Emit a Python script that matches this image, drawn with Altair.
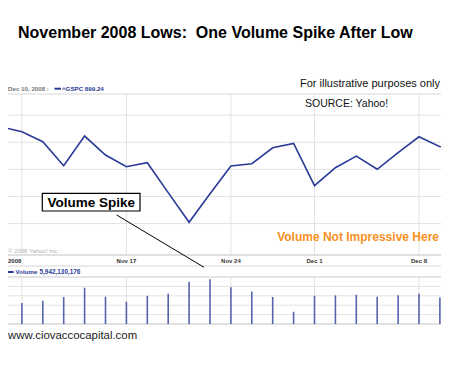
import altair as alt
import pandas as pd

# ---------------- data ----------------
days = ["Nov 7", "Nov 10", "Nov 11", "Nov 12", "Nov 13", "Nov 14", "Nov 17",
        "Nov 18", "Nov 19", "Nov 20", "Nov 21", "Nov 24", "Nov 25", "Nov 26",
        "Nov 28", "Dec 1", "Dec 2", "Dec 3", "Dec 4", "Dec 5", "Dec 8",
        "Dec 9", "Dec 10"]
close = [928.5, 919.3, 900.9, 856.7, 911.4, 876.4, 854.8, 862.2, 807.0,
         752.4, 805.0, 856.1, 860.4, 889.8, 897.9, 819.8, 853.0, 874.5,
         850.1, 881.0, 910.1, 891.7, 899.24]
volume_bn = [4.80, 4.47, 4.96, 5.74, 7.72, 5.80, 4.75, 6.00, 6.45, 9.00,
             9.50, 7.80, 6.90, 5.74, 2.60, 6.00, 6.10, 6.20, 5.80, 6.10,
             6.45, 5.66, 5.94]
tick_idx = [6, 11, 15, 20]
tick_labels = ["Nov 17", "Nov 24", "Dec 1", "Dec 8"]
grid_idx = [1, 6, 11, 15, 20]
price_grid = [750, 800, 850, 900, 950]
vol_grid = [2, 4, 6, 8, 10]

FONT = "Liberation Sans"
W, H = 433, 340
STEP = 20.9          # px per trading day
X0 = -7.0            # chart x of index 0

xscale = alt.Scale(domain=[(0 - X0) / STEP, (W - X0) / STEP], range=[0, W], nice=False, zero=False)
yprice = alt.Scale(domain=[692, 989], range=[247, 86], nice=False, zero=False)
yvol = alt.Scale(domain=[0, 10], range=[316, 269], nice=False, zero=False)

n = len(days)
price_df = pd.DataFrame({"i": list(range(n)), "day": days, "close": close})
vol_df = pd.DataFrame({"i": list(range(n)), "day": days, "vol": volume_bn})
tick_df = pd.DataFrame({"i": tick_idx, "label": tick_labels})
gridx_df = pd.DataFrame({"i": grid_idx})
pgrid_df = pd.DataFrame({"g": price_grid})
vgrid_df = pd.DataFrame({"g": vol_grid})

GRID = "#e2e2e2"
BORDER = "#d6d6d6"


def label(txt, x, y, size, color="#000000", weight="normal", align="left", baseline="alphabetic"):
    return alt.Chart(pd.DataFrame({"t": [txt]})).mark_text(
        align=align, baseline=baseline, fontSize=size, fontWeight=weight,
        color=color, font=FONT
    ).encode(x=alt.value(x), y=alt.value(y), text="t:N")


def hline(y, color=BORDER, width=1.0):
    return alt.Chart(pd.DataFrame({"k": [0]})).mark_rule(color=color, strokeWidth=width).encode(
        x=alt.value(0), x2=alt.value(W), y=alt.value(y))


# gridlines
price_hgrid = alt.Chart(pgrid_df).mark_rule(color=GRID, strokeWidth=1).encode(
    y=alt.Y("g:Q", scale=yprice, axis=None), x=alt.value(0), x2=alt.value(W))
vol_hgrid = alt.Chart(vgrid_df).mark_rule(color=GRID, strokeWidth=1).encode(
    y=alt.Y("g:Q", scale=yvol, axis=None), x=alt.value(0), x2=alt.value(W))
price_vgrid = alt.Chart(gridx_df).mark_rule(color=GRID, strokeWidth=1).encode(
    x=alt.X("i:Q", scale=xscale, axis=None), y=alt.value(86), y2=alt.value(247))
vol_vgrid = alt.Chart(gridx_df).mark_rule(color=GRID, strokeWidth=1).encode(
    x=alt.X("i:Q", scale=xscale, axis=None), y=alt.value(269), y2=alt.value(316))

borders = [hline(86), hline(247, width=1.5), hline(258), hline(269), hline(316, width=1.5)]

price_line = alt.Chart(price_df).mark_line(color="#2b3a97", strokeWidth=1.6, clip=True).encode(
    x=alt.X("i:Q", scale=xscale, axis=None),
    y=alt.Y("close:Q", scale=yprice, axis=None))

vol_bars = alt.Chart(vol_df).mark_rule(color="#5664ae", strokeWidth=1.6, clip=True).encode(
    x=alt.X("i:Q", scale=xscale, axis=None),
    y=alt.Y("vol:Q", scale=yvol, axis=None),
    y2=alt.datum(0))

tick_text = alt.Chart(tick_df).mark_text(
    fontSize=6, fontWeight="bold", color="#333333", font=FONT, baseline="middle", align="center"
).encode(x=alt.X("i:Q", scale=xscale, axis=None), y=alt.value(252.7), text="label:N")

# legend swatches
sw1 = alt.Chart(pd.DataFrame({"k": [0]})).mark_rect(color="#2b3a97").encode(
    x=alt.value(46.5), x2=alt.value(53), y=alt.value(79.7), y2=alt.value(81.7))
sw2 = alt.Chart(pd.DataFrame({"k": [0]})).mark_rect(color="#2b3a97").encode(
    x=alt.value(0), x2=alt.value(5.7), y=alt.value(263), y2=alt.value(265))

# annotation box + connector
box = alt.Chart(pd.DataFrame({"k": [0]})).mark_rect(fill="white", stroke="black", strokeWidth=1.2).encode(
    x=alt.value(34.3), x2=alt.value(132), y=alt.value(185.3), y2=alt.value(203))
connector = alt.Chart(pd.DataFrame({"k": [0]})).mark_rule(color="black", strokeWidth=1).encode(
    x=alt.value(108.7), y=alt.value(207), x2=alt.value(196), y2=alt.value(259.3))

texts = [
    label("November 2008 Lows:\u00a0 One Volume Spike After Low", 10, 30.3, 16, weight="bold"),
    label("For illustrative purposes only", W - 1, 78.7, 11, color="#111111", align="right"),
    label("SOURCE: Yahoo!", 297, 99.3, 10.5, color="#111111"),
    label("Dec 10, 2008 :", 0, 80.7, 6.2, color="#777777", weight="bold", baseline="middle"),
    label("^GSPC 899.24", 54, 80.7, 6.2, color="#2b3a97", weight="bold", baseline="middle"),
    label("\u00a9 2008 Yahoo! Inc.", 0, 243, 6, color="#b0b0b0", baseline="middle"),
    label("2008", 0, 252.7, 6, color="#333333", weight="bold", baseline="middle"),
    label("Volume", 7.5, 264, 6.2, color="#2b3a97", weight="bold", baseline="middle"),
    label("5,942,130,176", 31.5, 264, 6.4, color="#2b3a97", weight="bold", baseline="middle"),
    label("Volume Spike", 83.3, 199.3, 13.5, weight="bold", align="center"),
    label("Volume Not Impressive Here", W - 2, 233, 12, color="#f7901e", weight="bold", align="right"),
    label("www.ciovaccocapital.com", 0, 331, 11.4, color="#1a1a1a"),
]

layers = [price_hgrid, vol_hgrid, price_vgrid, vol_vgrid] + borders + [
    price_line, vol_bars, tick_text, sw1, sw2, connector, box] + texts

chart = alt.layer(*layers).resolve_scale(y="independent").properties(
    width=W, height=H, padding=0, autosize=alt.AutoSizeParams(type="none")
).configure_view(stroke="transparent")

chart.save("out.html", embed_options={"renderer": "svg", "actions": False})
